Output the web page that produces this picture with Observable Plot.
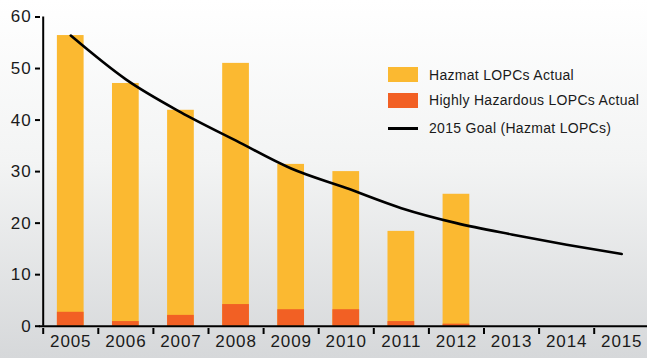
<!DOCTYPE html>
<html>
<head>
<meta charset="utf-8">
<script src="https://cdn.jsdelivr.net/npm/d3@7"></script>
<script src="https://cdn.jsdelivr.net/npm/@observablehq/plot@0.6"></script>
<style>
  html, body { margin: 0; padding: 0; }
  #wrap { position: relative; width: 647px; height: 358px; overflow: hidden;
    background: linear-gradient(to bottom, #ffffff 0%, #f3f4f4 45%, #d6d8da 100%);
    font-family: "Liberation Sans", Arial, sans-serif; }
  #wrap svg { position: absolute; left: 0; top: 0; background: transparent; }
  .legend { position: absolute; left: 388px; top: 0; width: 259px; height: 150px; font-size: 14px; letter-spacing: 0.3px; color: #1a1a1a; }
  .legend .sw { position: absolute; left: 0; width: 30px; height: 15px; }
  .legend .ln { position: absolute; left: 0; width: 30px; height: 3px; background: #000; }
  .legend .tx { position: absolute; left: 41px; line-height: 16px; white-space: nowrap; }
</style>
</head>
<body>
<div id="wrap"></div>
<script>
const years = [2005, 2006, 2007, 2008, 2009, 2010, 2011, 2012];
const hazmatActual = [56.4, 47.1, 41.9, 51.0, 31.4, 30.0, 18.4, 25.6];
const highlyHazardous = [2.7, 0.9, 2.1, 4.2, 3.2, 3.2, 0.9, 0.4];
const goalYears = [2005, 2006, 2007, 2008, 2009, 2010, 2011, 2012, 2013, 2014, 2015];
const goalValues = [56.4, 47.9, 41.5, 36.0, 30.6, 26.8, 22.9, 20.0, 17.8, 15.8, 14.0];
const axisYears = [2005, 2006, 2007, 2008, 2009, 2010, 2011, 2012, 2013, 2014, 2015];
const yTicks = [0, 10, 20, 30, 40, 50, 60];
const legendLabels = ["Hazmat LOPCs Actual", "Highly Hazardous LOPCs Actual", "2015 Goal (Hazmat LOPCs)"];
const colors = { hazmat: "#fbb931", highly: "#f26024", goal: "#000000" };

const bars = years.map((y, i) => ({ year: y, total: hazmatActual[i], hh: highlyHazardous[i] }));
const goal = goalYears.map((y, i) => ({ year: y, value: goalValues[i] }));
const boundaries = axisYears.map(y => y - 0.5);
const half = 0.2425;

const chart = Plot.plot({
  width: 647,
  height: 358,
  style: { background: "transparent", fontFamily: "'Liberation Sans', Arial, sans-serif" },
  x: { type: "linear", domain: [2004.5, 2015.5], range: [42.7, 648.8] },
  y: { domain: [0, 60], range: [325.7, 16.5] },
  marks: [
    Plot.rectY(bars, { x1: d => d.year - half, x2: d => d.year + half, y1: 0, y2: "total", fill: colors.hazmat }),
    Plot.rectY(bars, { x1: d => d.year - half, x2: d => d.year + half, y1: 0, y2: "hh", fill: colors.highly }),
    Plot.line(goal, { x: "year", y: "value", stroke: colors.goal, strokeWidth: 2.6, curve: "monotone-x" }),
    Plot.axisY(yTicks, { tickSize: 5, tickPadding: 4, fontSize: 17, tickFormat: d => String(d),
      stroke: "#000", strokeWidth: 2, fill: "#1a1a1a" }),
    Plot.axisX(boundaries, { tickSize: 6, tickFormat: () => "", stroke: "#000", strokeWidth: 2, label: null }),
    Plot.axisX(axisYears, { tickSize: 0, tickPadding: 6, fontSize: 17, tickFormat: d => String(d),
      fill: "#1a1a1a", label: null }),
    Plot.ruleY([0], { x1: 2004.43, x2: 2015.5, stroke: "#000", strokeWidth: 2 }),
    Plot.ruleX([2004.5], { y1: 0, y2: 60, stroke: "#000", strokeWidth: 2 })
  ]
});
chart.querySelectorAll("text").forEach(t => t.setAttribute("letter-spacing", "0.9"));

const wrap = document.getElementById("wrap");
wrap.appendChild(chart);

const legend = document.createElement("div");
legend.className = "legend";
const rowCenters = [74.5, 100.2, 128.3];
const kinds = ["hazmat", "highly", "goal"];
legendLabels.forEach((label, i) => {
  const c = rowCenters[i];
  if (kinds[i] === "goal") {
    const ln = document.createElement("div");
    ln.className = "ln"; ln.style.top = (c - 1.5) + "px";
    legend.appendChild(ln);
  } else {
    const sw = document.createElement("div");
    sw.className = "sw"; sw.style.top = (c - 7.5) + "px"; sw.style.background = colors[kinds[i]];
    legend.appendChild(sw);
  }
  const tx = document.createElement("div");
  tx.className = "tx"; tx.style.top = (c - 8) + "px"; tx.textContent = label;
  legend.appendChild(tx);
});
wrap.appendChild(legend);
</script>
</body>
</html>
